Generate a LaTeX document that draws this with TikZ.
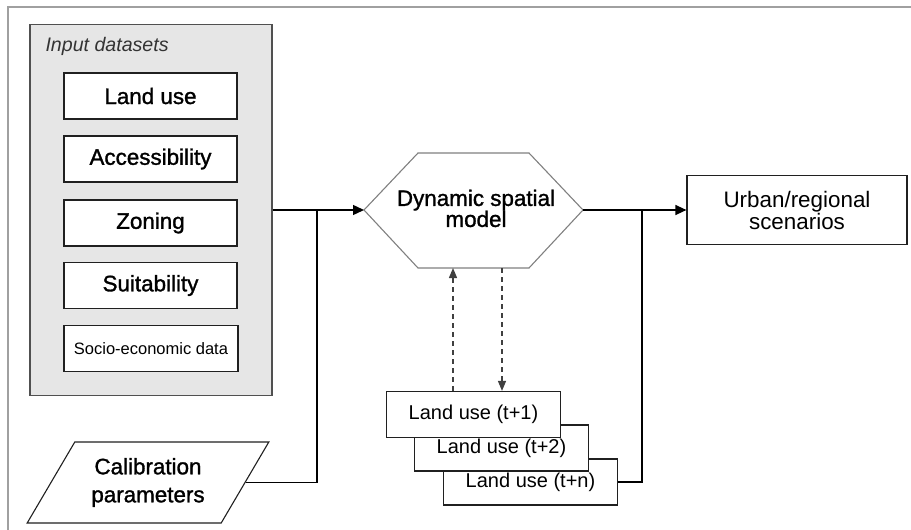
\documentclass[tikz,border=0pt]{standalone}
\usepackage{fontspec}
\setmainfont{Liberation Sans}
\newfontfamily\heavylabel{Liberation Sans}[FakeBold=1.3]
\usetikzlibrary{arrows.meta,shapes.geometric}

\definecolor{framegray}{HTML}{A0A0A0}
\definecolor{groupfill}{HTML}{E6E6E6}
\definecolor{groupline}{HTML}{505050}
\definecolor{hexline}{HTML}{808080}
\definecolor{boxline}{HTML}{202020}

\tikzset{
  bigtext/.style={font=\heavylabel\fontsize{22.4}{22}\selectfont},
  framerule/.style={draw=framegray, line width=1.4pt},
  groupbox/.style={draw=groupline, fill=groupfill, line width=1.3pt,
    minimum width=242pt, minimum height=371pt, inner sep=0pt},
  databox/.style={draw=boxline, fill=white, line width=1.2pt,
    minimum width=173pt, minimum height=46pt, inner sep=0pt, bigtext},
  smallbox/.style={draw=boxline, fill=white, line width=1.2pt,
    minimum width=174pt, minimum height=46pt, inner sep=0pt,
    font=\fontsize{16.5}{18}\selectfont},
  stepbox/.style={draw=boxline, fill=white, line width=1.2pt,
    minimum width=174pt, minimum height=46pt, inner sep=0pt,
    font=\fontsize{20}{22}\selectfont},
  calibbox/.style={trapezium, trapezium left angle=53, trapezium right angle=127,
    trapezium stretches=true, draw=boxline, fill=white, line width=1.1pt,
    minimum width=242pt, minimum height=81pt, inner sep=0pt, align=center,
    font=\heavylabel\fontsize{22.4}{28}\selectfont},
  hexshape/.style={draw=hexline, fill=white, line width=1.1pt},
  outbox/.style={draw=boxline, fill=white, line width=1.2pt,
    minimum width=220pt, minimum height=69pt, inner sep=0pt, align=center,
    font=\fontsize{22.4}{22}\selectfont},
  flow/.style={draw=black, line width=1.4pt},
  flowarrow/.style={flow, -{Triangle[length=11pt,width=10pt]}},
  feedback/.style={draw=black!75, line width=1.3pt, dash pattern=on 5pt off 4pt,
    -{Triangle[length=10pt,width=8pt]}}
}

\begin{document}
\begin{tikzpicture}[x=1pt,y=-1pt]
\useasboundingbox (0,0) rectangle (911,530);

% page frame (top and left edges)
\draw[framerule] (911,7) -- (8,7) -- (8,530);

% input datasets group
\node[groupbox] (inputs) at (151,210) {};
\node[anchor=base west, font=\fontsize{19.6}{20}\selectfont\itshape, text=black!80]
  (inputs-title) at (42,51) {Input datasets};
\node[databox] (landuse) at (150.5,96) {Land use};
\node[databox] (access) at (150.5,159) {Accessibility};
\node[databox] (zoning) at (150.5,223) {Zoning};
\node[databox] (suit) at (150.5,285.5) {Suitability};
\node[smallbox] (socio) at (151,348.5) {Socio-economic data};

% calibration parameters
\node[calibbox] (calib) at (148,482.5) {Calibration\\parameters};

% dynamic spatial model (hexagon)
\coordinate (hex-w) at (364,210);
\coordinate (hex-e) at (583,210);
\draw[hexshape] (hex-w) -- (418,153) -- (529,153) -- (hex-e) -- (529,268) -- (418,268) -- cycle;
\node[align=center, font=\heavylabel\fontsize{22.4}{21}\selectfont, inner sep=0pt] (model) at (476,208.4)
  {Dynamic spatial\\model};
\coordinate (hex-up) at (453,268);
\coordinate (hex-down) at (502,268);

% scenarios
\node[outbox] (scen) at (797,210) {Urban/regional\\scenarios};

% land use steps
\node[stepbox] (lu3) at (530.5,482) {Land use (t+n)};
\node[stepbox] (lu2) at (501.5,448) {Land use (t+2)};
\node[stepbox] (lu1) at (473.5,414.5) {Land use (t+1)};

% junctions
\coordinate (join-in) at (317,210);
\coordinate (join-out) at (642,210);

% connectors
\draw[flowarrow] (inputs.east) -- (hex-w);
\draw[flow] (calib.east) -| (join-in);
\draw[flowarrow] (hex-e) -- (scen.west);
\draw[flow] (lu3.east) -| (join-out);
\draw[feedback] (lu1.north -| hex-up) -- (hex-up);
\draw[feedback] (hex-down) -- (lu1.north -| hex-down);
\end{tikzpicture}
\end{document}
